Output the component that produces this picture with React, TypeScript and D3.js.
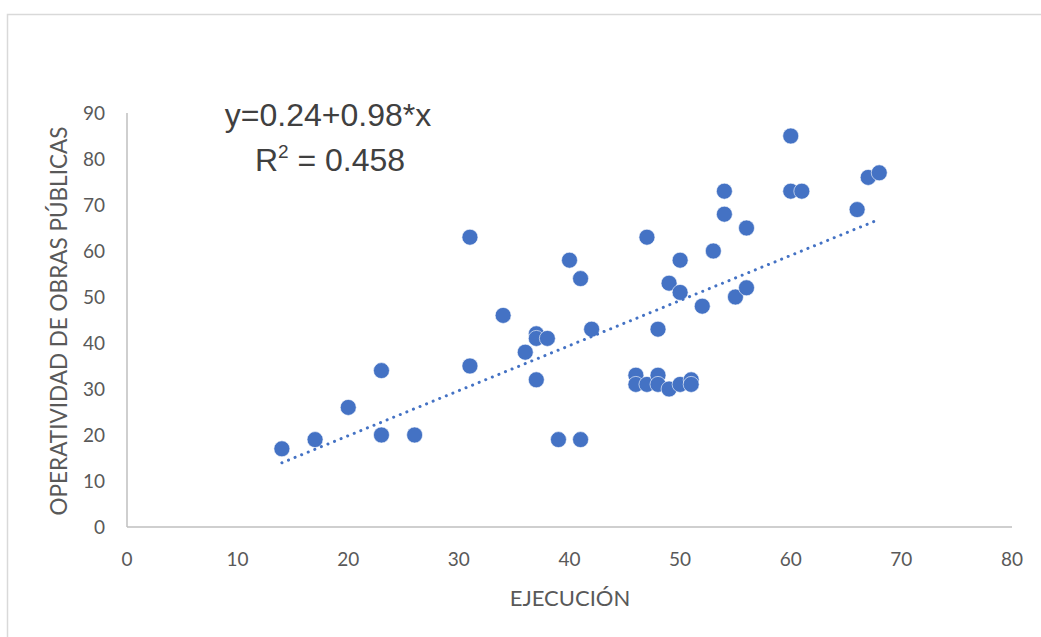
import React from "react";
import * as d3 from "d3";

const ejecucion = [14, 17, 20, 23, 23, 26, 31, 31, 34, 36, 37, 37, 38, 37, 39, 41, 40, 41, 42, 47, 46, 46, 47, 48, 48, 49, 50, 51, 51, 48, 49, 50, 50, 52, 53, 54, 54, 55, 56, 56, 60, 60, 61, 66, 67, 68];
const operatividad = [17, 19, 26, 34, 20, 20, 63, 35, 46, 38, 42, 41, 41, 32, 19, 19, 58, 54, 43, 63, 33, 31, 31, 33, 31, 30, 31, 32, 31, 43, 53, 58, 51, 48, 60, 73, 68, 50, 65, 52, 85, 73, 73, 69, 76, 77];
const xTicks = [0, 10, 20, 30, 40, 50, 60, 70, 80];
const yTicks = [0, 10, 20, 30, 40, 50, 60, 70, 80, 90];
const trendIntercept = 0.24;
const trendSlope = 0.98;
const xTitle = "EJECUCIÓN";
const yTitle = "OPERATIVIDAD DE OBRAS PÚBLICAS";

export default function App() {
  const W = 1041, H = 637;
  const x = d3.scaleLinear().domain([0, 80]).range([127, 1012]);
  const y = d3.scaleLinear().domain([0, 90]).range([527, 113]);
  const xMin = d3.min(ejecucion)!;
  const xMax = d3.max(ejecucion)!;
  const line = d3.line<number>().x((d) => x(d)).y((d) => y(trendIntercept + trendSlope * d));
  const tickFont = "Lato, 'Open Sans', sans-serif";
  return (
    <div style={{ position: "absolute", left: 0, top: 0 }}>
      <svg width={W} height={H} style={{ display: "block" }}>
        <rect x={0} y={0} width={W} height={H} fill="#fff" />
        <rect x={7.5} y={14.5} width={W + 10} height={H + 10} fill="#fff" stroke="#d9d9d9" strokeWidth={1.5} />
        <line x1={x(0)} x2={x(80)} y1={y(0)} y2={y(0)} stroke="#bfbfbf" strokeWidth={1.5} />
        <line x1={x(0)} x2={x(0)} y1={y(0)} y2={y(90)} stroke="#bfbfbf" strokeWidth={1.5} />
        {xTicks.map((t) => (
          <text key={"x" + t} x={x(t)} y={566} textAnchor="middle" fontFamily={tickFont} fontSize={19} fill="#595959">{t}</text>
        ))}
        {yTicks.map((t) => (
          <text key={"y" + t} x={105} y={y(t) + 7} textAnchor="end" fontFamily={tickFont} fontSize={19} fill="#595959">{t}</text>
        ))}
        <text x={570} y={606} textAnchor="middle" fontFamily={tickFont} fontSize={22} fill="#595959">{xTitle}</text>
        <text transform="translate(67,321) rotate(-90)" textAnchor="middle" fontFamily={tickFont} fontSize={22.5} fill="#595959">{yTitle}</text>
        {ejecucion.map((v, i) => (
          <circle key={i} cx={x(v)} cy={y(operatividad[i])} r={8} fill="#4472C4" stroke="#fff" strokeWidth={0.6} />
        ))}
        <path d={line([xMin, xMax]) || ""} fill="none" stroke="#4472C4" strokeWidth={3} strokeDasharray="0.1 7" strokeLinecap="round" />
        <text x={328} y={126} textAnchor="middle" fontFamily="'Liberation Sans', Arial, sans-serif" fontSize={32} fill="#404040">y=0.24+0.98*x</text>
        <text x={330} y={171} textAnchor="middle" fontFamily="'Liberation Sans', Arial, sans-serif" fontSize={32} fill="#404040">
          R<tspan dy={-13} fontSize={19}>2</tspan><tspan dy={13}> = 0.458</tspan>
        </text>
      </svg>
    </div>
  );
}
